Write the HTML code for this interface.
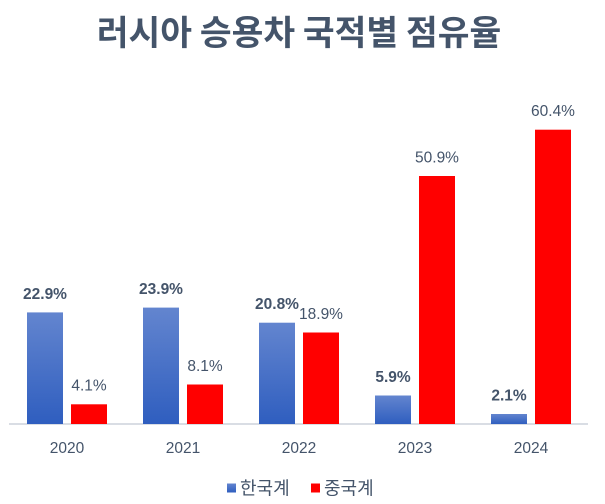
<!DOCTYPE html>
<html><head><meta charset="utf-8">
<style>
html,body{margin:0;padding:0;background:#fff;}
svg{display:block;}
text{font-family:"Liberation Sans","Noto Sans CJK KR",sans-serif;fill:#44546a;}
.k{font-family:"Noto Sans CJK KR","NanumGothic",sans-serif;}
</style></head>
<body>
<svg width="605" height="504" viewBox="0 0 605 504" xmlns="http://www.w3.org/2000/svg">
<defs>
<linearGradient id="bg" x1="0" y1="0" x2="0" y2="1">
<stop offset="0" stop-color="#6385cf"/>
<stop offset="1" stop-color="#2f5ebf"/>
</linearGradient>
</defs>
<text class="k" x="299" y="45" text-anchor="middle" font-size="34.5" font-weight="bold">러시아 승용차 국적별 점유율</text>

<rect x="9" y="423" width="579" height="2" fill="#d9dde4"/>

<!-- blue bars -->
<rect x="27" y="312.4" width="36" height="111.6" fill="url(#bg)"/>
<rect x="143" y="307.6" width="36" height="116.4" fill="url(#bg)"/>
<rect x="259" y="322.7" width="36" height="101.3" fill="url(#bg)"/>
<rect x="375" y="395.5" width="36" height="28.5" fill="url(#bg)"/>
<rect x="491" y="414" width="36" height="10" fill="url(#bg)"/>
<!-- red bars -->
<rect x="71" y="404.3" width="36" height="19.7" fill="#ff0000"/>
<rect x="187" y="384.5" width="36" height="39.5" fill="#ff0000"/>
<rect x="303" y="332.5" width="36" height="91.5" fill="#ff0000"/>
<rect x="419" y="176" width="36" height="248" fill="#ff0000"/>
<rect x="535" y="129.7" width="36" height="294.3" fill="#ff0000"/>

<!-- blue labels -->
<g font-size="15.5" font-weight="bold" text-anchor="middle">
<text x="45" y="299">22.9%</text>
<text x="161" y="294">23.9%</text>
<text x="277" y="309">20.8%</text>
<text x="393" y="382">5.9%</text>
<text x="509" y="400.5">2.1%</text>
</g>
<!-- red labels -->
<g font-size="15.5" text-anchor="middle">
<text x="89" y="390.5">4.1%</text>
<text x="205" y="371">8.1%</text>
<text x="321" y="319">18.9%</text>
<text x="437" y="162.5">50.9%</text>
<text x="553" y="116">60.4%</text>
</g>
<!-- x ticks -->
<g font-size="15.5" text-anchor="middle">
<text x="67" y="453">2020</text>
<text x="183" y="453">2021</text>
<text x="299" y="453">2022</text>
<text x="415" y="453">2023</text>
<text x="531" y="453">2024</text>
</g>
<!-- legend -->
<rect x="227" y="483.5" width="9" height="9" fill="url(#bg)"/>
<text class="k" x="240" y="494.5" font-size="18">한국계</text>
<rect x="311" y="483.5" width="9" height="9" fill="#ff0000"/>
<text class="k" x="324" y="494.5" font-size="18">중국계</text>
</svg>
</body></html>
